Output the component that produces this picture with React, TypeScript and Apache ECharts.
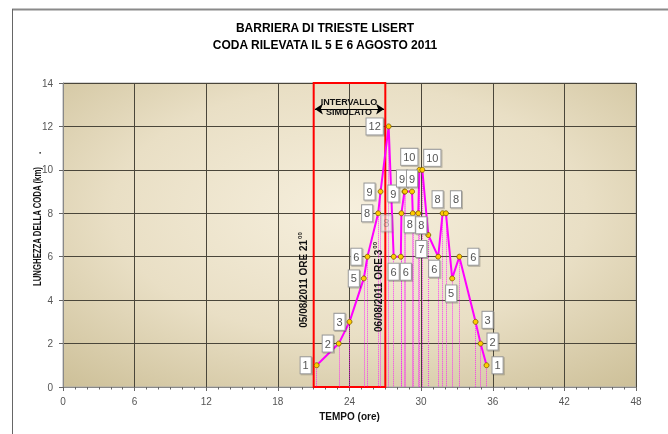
import React, { useEffect, useRef } from "react";
import * as echarts from "echarts";

// Data
const hours = [21.25, 23.1, 24.0, 25.2, 25.5, 26.4, 26.6, 27.28, 27.7, 28.3, 28.35, 28.6, 28.65, 29.24, 29.3, 29.76, 29.85, 30.1, 30.6, 31.43, 31.8, 32.08, 32.6, 33.2, 34.56, 34.98, 35.48];
const queueKm = [1, 2, 3, 5, 6, 8, 9, 12, 6, 6, 8, 9, 9, 9, 8, 8, 10, 10, 7, 6, 8, 8, 5, 6, 3, 2, 1];

// label box placement (pixels, relative to each point)
const labelOffsets: number[][] = [
  [-11, 0], [-11, 0], [-10, 0], [-10, 0], [-11, 0], [-11, 0], [-11, 0], [-14, 0],
  [0, 15], [5, 15], [-15, 10], [-11, 2], [-3, -13], [0, -13], [-3, 11], [3, 12],
  [-10, -13], [10, -12], [-7, 14], [-4, 12], [-5, -14], [10, -14], [-1, 15], [14, 0],
  [12, -2], [12, -2], [11, 0],
];
const fadedLabels = [10];

const xTicks = { min: 0, max: 48, interval: 6 };
const yTicks = { min: 0, max: 14, interval: 2 };
const simulatedInterval = [21, 27];
const arrowLevel = 12.8;

const FONT = "'Liberation Sans', Arial, sans-serif";

export default function App() {
  const ref = useRef<HTMLDivElement>(null);
  useEffect(() => {
    if (!ref.current) return;
    const chart = echarts.init(ref.current, undefined, { renderer: "svg" });
    const points = hours.map((h, i) => ({
      value: [h, queueKm[i]],
      label: {
        offset: labelOffsets[i],
        opacity: fadedLabels.includes(i) ? 0.45 : 1,
      },
    }));
    const dropLines = hours.map((h, i) => [
      { coord: [h, queueKm[i]] },
      { coord: [h, 0] },
    ]);
    const arrowLine = [
      { coord: [simulatedInterval[0] + 0.1, arrowLevel], symbol: "arrow", lineStyle: { type: "solid", color: "#000", width: 1, opacity: 1 } },
      { coord: [simulatedInterval[1] - 0.1, arrowLevel], symbol: "arrow" },
    ];
    chart.setOption({
      animation: false,
      textStyle: { fontFamily: FONT },
      title: {
        text: "BARRIERA DI TRIESTE LISERT\nCODA RILEVATA IL 5 E 6 AGOSTO 2011",
        left: 325,
        textAlign: "center",
        top: 19,
        padding: 0,
        textStyle: { fontSize: 12, fontWeight: "bold", color: "#000", lineHeight: 17, fontFamily: FONT },
      },
      grid: {
        left: 63,
        right: 32,
        top: 83,
        bottom: 47,
        show: true,
        borderColor: "#aaa",
        borderWidth: 1,
        backgroundColor: new echarts.graphic.RadialGradient(0.5, 0.42, 0.75, [
          { offset: 0, color: "#F6EFDD" },
          { offset: 0.55, color: "#E9DFC5" },
          { offset: 1, color: "#CEC19A" },
        ]),
      },
      xAxis: {
        type: "value",
        min: xTicks.min,
        max: xTicks.max,
        interval: xTicks.interval,
        name: "TEMPO (ore)",
        nameLocation: "middle",
        nameGap: 24,
        nameTextStyle: { fontSize: 10, fontWeight: "bold", color: "#111", fontFamily: FONT },
        axisLine: { lineStyle: { color: "#888" } },
        axisTick: { show: true, length: 4, lineStyle: { color: "#666" } },
        minorTick: { show: true, splitNumber: 6, length: 2.5, lineStyle: { color: "#666" } },
        axisLabel: { color: "#555", fontSize: 10, margin: 9, fontFamily: FONT },
        splitLine: { show: true, lineStyle: { color: "#4a463a", width: 1 } },
      },
      yAxis: {
        type: "value",
        min: yTicks.min,
        max: yTicks.max,
        interval: yTicks.interval,
        axisLine: { show: true, lineStyle: { color: "#888" } },
        axisTick: { show: true, length: 4, lineStyle: { color: "#666" } },
        axisLabel: { color: "#555", fontSize: 10, margin: 10, fontFamily: FONT },
        splitLine: { show: true, lineStyle: { color: "#4a463a", width: 1 } },
      },
      graphic: [
        { type: "line", shape: { x1: 12, y1: 9.5, x2: 668, y2: 9.5 }, style: { stroke: "#8a8a8a", lineWidth: 2 }, silent: true },
        { type: "line", shape: { x1: 12.5, y1: 9, x2: 12.5, y2: 434 }, style: { stroke: "#666", lineWidth: 1 }, silent: true },
        {
          type: "text", x: 38, y: 219, rotation: Math.PI / 2, scaleX: 0.78,
          style: { text: "LUNGHEZZA DELLA CODA (km)      .", font: `bold 10px ${FONT}`, fill: "#111", align: "center", verticalAlign: "middle" },
        },
        {
          type: "text", x: 349, y: 107, z: 100,
          style: { text: "INTERVALLO\nSIMULATO", font: `bold 9px ${FONT}`, fill: "#111", align: "center", verticalAlign: "middle", lineHeight: 10 },
        },
        {
          type: "text", x: 303, y: 280, rotation: Math.PI / 2, z: 100,
          style: {
            text: "05/08/2011 ORE 21{s|00}",
            font: `bold 10px ${FONT}`, fill: "#111", align: "center", verticalAlign: "middle",
            rich: { s: { fontSize: 6, fontWeight: "bold", fill: "#111", verticalAlign: "top", padding: [0, 0, 6, 1] } },
          },
        },
        {
          type: "text", x: 378, y: 287, rotation: Math.PI / 2, z: 100,
          style: {
            text: "06/08/2011 ORE 3{s|00}",
            font: `bold 10px ${FONT}`, fill: "#111", align: "center", verticalAlign: "middle",
            rich: { s: { fontSize: 6, fontWeight: "bold", fill: "#111", verticalAlign: "top", padding: [0, 0, 6, 1] } },
          },
        },
      ],
      series: [
        {
          type: "line",
          data: points,
          z: 5,
          lineStyle: { color: "#FF00FF", width: 2 },
          itemStyle: { color: "#FFCC00", borderColor: "#7a5a00", borderWidth: 0.8 },
          symbol: "circle",
          symbolSize: 5,
          label: {
            show: true,
            position: "inside",
            formatter: (p: any) => String(p.value[1]),
            backgroundColor: "#fff",
            borderColor: "#999",
            borderWidth: 1,
            padding: [3, 2, 2, 2],
            fontSize: 11,
            color: "#555",
            fontFamily: FONT,
            shadowColor: "rgba(0,0,0,0.25)",
            shadowOffsetX: 1,
            shadowOffsetY: 1,
            shadowBlur: 1,
          },
          markLine: {
            silent: true,
            symbol: ["none", "none"],
            symbolSize: 8,
            label: { show: false },
            lineStyle: { type: "dotted", color: "#FF00FF", width: 1, opacity: 0.75 },
            data: [...dropLines, arrowLine],
          },
          markArea: {
            silent: true,
            itemStyle: { color: "rgba(0,0,0,0)", borderColor: "#FF0000", borderWidth: 2 },
            data: [[{ coord: [simulatedInterval[0], yTicks.min] }, { coord: [simulatedInterval[1], yTicks.max] }]],
          },
        },
      ],
    });
    return () => chart.dispose();
  }, []);
  return <div ref={ref} style={{ position: "fixed", left: 0, top: 0, width: 668, height: 434 }} />;
}
